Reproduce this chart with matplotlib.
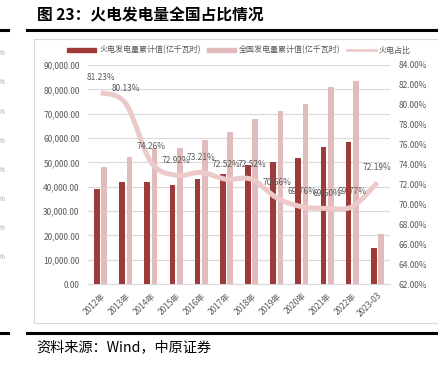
import matplotlib.pyplot as plt
import matplotlib.patches as mpatches
from matplotlib.lines import Line2D
from matplotlib.path import Path
import numpy as np

plt.rcParams['font.family'] = ['Noto Sans CJK SC', 'DejaVu Sans']

# data
years = ['2012年', '2013年', '2014年', '2015年', '2016年', '2017年', '2018年',
         '2019年', '2020年', '2021年', '2022年', '2023-03']
thermal = [38900, 41800, 41800, 40700, 43000, 45200, 48900, 50300, 51700, 56200, 58200, 14700]
national = [48000, 52100, 55800, 55800, 59000, 62600, 67700, 71200, 74000, 80800, 83600, 20400]
share = [81.23, 80.13, 74.26, 72.92, 73.21, 72.52, 72.52, 70.66, 69.76, 69.60, 69.77, 72.19]

red = '#9E3B3A'
pink = '#E2BCBC'
line_pink = '#ECCACA'
grey_txt = '#595959'

fig = plt.figure(figsize=(4.38, 3.71), dpi=100)

# page decorations
fig.add_artist(mpatches.Rectangle((34 / 438, 1 - 323 / 371), 420 / 438, 284 / 371,
                                  transform=fig.transFigure, fill=False,
                                  edgecolor='#D9D9D9', linewidth=0.8))
fig.add_artist(Line2D([27 / 438, 1], [1 - 29.5 / 371] * 2, transform=fig.transFigure,
                      color='black', linewidth=2.2))
fig.add_artist(Line2D([0, 8 / 438], [1 - 29.5 / 371] * 2, transform=fig.transFigure,
                      color='black', linewidth=2.2))
fig.add_artist(Line2D([27 / 438, 1], [1 - 333 / 371] * 2, transform=fig.transFigure,
                      color='black', linewidth=2.2))
fig.add_artist(Line2D([0, 8 / 438], [1 - 333 / 371] * 2, transform=fig.transFigure,
                      color='black', linewidth=2.2))
for yy in [53, 82, 112, 141, 170, 199, 228, 257]:
    fig.text(-2 / 438, 1 - yy / 371, '%', fontsize=5.5, color='#A0A0A0',
             ha='left', va='center')

fig.text(37 / 438, 1 - 15 / 371, '图 23：火电发电量全国占比情况', fontsize=11.3,
         fontweight='bold', ha='left', va='center')
fig.text(36 / 438, 1 - 347 / 371, '资料来源：Wind，中原证券', fontsize=10.2,
         ha='left', va='center')

ax = fig.add_axes([88 / 438, 1 - 284 / 371, 302 / 438, 219 / 371])
x = np.arange(len(years))
w = 0.22
ax.bar(x - 0.145, thermal, width=w, color=red, zorder=3)
ax.bar(x + 0.145, national, width=w, color=pink, zorder=3)
ax.set_xlim(-0.5, len(years) - 0.5)
ax.set_ylim(0, 90000)
ax.set_yticks(np.arange(0, 90001, 10000))
ax.set_yticklabels([f'{v:,.2f}' for v in np.arange(0, 90001, 10000)])
ax.grid(axis='y', color='#D9D9D9', linewidth=0.8, zorder=0)
ax.set_xticks(x)
ax.set_xticklabels(years, rotation=45, ha='right', rotation_mode='anchor')
ax.tick_params(axis='both', length=0, labelsize=6, labelcolor=grey_txt)
ax.tick_params(axis='y', pad=6)
ax.tick_params(axis='x', pad=5)
for s in ['top', 'right', 'left']:
    ax.spines[s].set_visible(False)
ax.spines['bottom'].set_color('#D9D9D9')

ax2 = ax.twinx()
ax2.set_ylim(62, 84)
ax2.set_yticks(np.arange(62, 84.1, 2))
ax2.set_yticklabels([f'{v:.2f}%' for v in np.arange(62, 84.1, 2)])
ax2.tick_params(axis='y', length=0, labelsize=6, labelcolor=grey_txt, pad=6)
for s in ax2.spines.values():
    s.set_visible(False)

# smoothed line (Excel-style bezier through points)
px = np.array(x, dtype=float)
py = np.array(share, dtype=float)
verts = [(px[0], py[0])]
codes = [Path.MOVETO]
n = len(px)
for i in range(n - 1):
    p0 = (px[max(i - 1, 0)], py[max(i - 1, 0)])
    p1 = (px[i], py[i])
    p2 = (px[i + 1], py[i + 1])
    p3 = (px[min(i + 2, n - 1)], py[min(i + 2, n - 1)])
    c1 = (p1[0] + (p2[0] - p0[0]) / 6, p1[1] + (p2[1] - p0[1]) / 6)
    c2 = (p2[0] - (p3[0] - p1[0]) / 6, p2[1] - (p3[1] - p1[1]) / 6)
    verts += [c1, c2, p2]
    codes += [Path.CURVE4] * 3
ax2.add_patch(mpatches.PathPatch(Path(verts, codes), fill=False, edgecolor=line_pink,
                                 linewidth=3.6, capstyle='butt', zorder=4))
for xi, yi in zip(x, share):
    ax2.annotate(f'{yi:.2f}%', (xi, yi), xytext=(0, 11), textcoords='offset points',
                 ha='center', va='center', fontsize=6, color=grey_txt, zorder=5)

handles = [mpatches.Rectangle((0, 0), 1, 1, color=red),
           mpatches.Rectangle((0, 0), 1, 1, color=pink),
           Line2D([], [], color=line_pink, linewidth=2)]
labels = ['火电发电量累计值(亿千瓦时)', '全国发电量累计值(亿千瓦时)', '火电占比']
fig.legend(handles, labels, loc='center', bbox_to_anchor=(239 / 438, 1 - 50 / 371),
           ncol=3, frameon=False, fontsize=5.8, labelcolor=grey_txt,
           handlelength=3.6, handleheight=0.35, handletextpad=0.35, columnspacing=0.8)

fig.savefig('out.png', dpi=100)
